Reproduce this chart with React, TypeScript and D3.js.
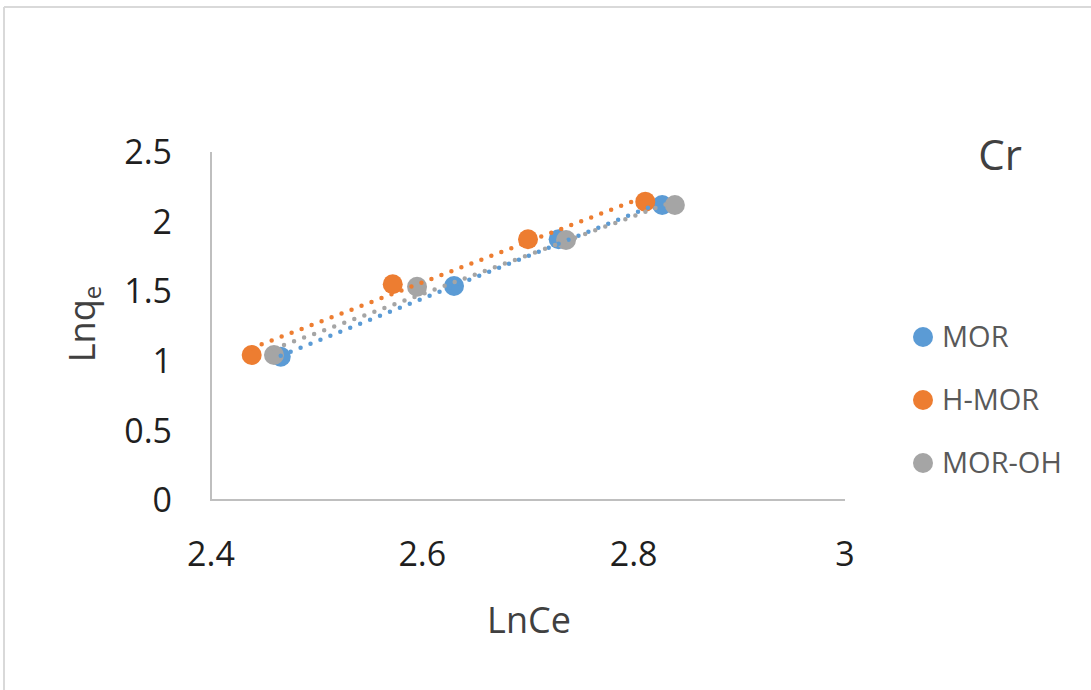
import React from "react";
import * as d3 from "d3";

const seriesNames = ["MOR", "H-MOR", "MOR-OH"];
const seriesColors = ["#5B9BD5", "#ED7D31", "#A5A5A5"];
const morX = [2.466, 2.63, 2.729, 2.827];
const morY = [1.029, 1.537, 1.873, 2.119];
const hmorX = [2.4385, 2.572, 2.7, 2.811];
const hmorY = [1.042, 1.55, 1.873, 2.143];
const morohX = [2.4596, 2.595, 2.736, 2.839];
const morohY = [1.042, 1.532, 1.868, 2.119];
const xTicks = [2.4, 2.6, 2.8, 3];
const yTicks = [0, 0.5, 1, 1.5, 2, 2.5];
const chartTitle = "Cr";

const W = 1091;
const H = 690;

function regress(xs: number[], ys: number[]) {
  const n = xs.length;
  const mx = d3.mean(xs) as number;
  const my = d3.mean(ys) as number;
  let sxy = 0, sxx = 0;
  for (let i = 0; i < n; i++) {
    sxy += (xs[i] - mx) * (ys[i] - my);
    sxx += (xs[i] - mx) * (xs[i] - mx);
  }
  const b = sxy / sxx;
  const a = my - b * mx;
  return (x: number) => a + b * x;
}

export default function App() {
  const x = d3.scaleLinear().domain([2.4, 3]).range([211, 845]);
  const y = d3.scaleLinear().domain([0, 2.5]).range([500, 152]);
  const series = [
    { xs: morX, ys: morY },
    { xs: hmorX, ys: hmorY },
    { xs: morohX, ys: morohY },
  ];
  const font = "'Open Sans', sans-serif";
  const line = d3
    .line<[number, number]>()
    .x((d) => x(d[0]))
    .y((d) => y(d[1]));

  return (
    <svg
      width={W}
      height={H}
      style={{ position: "absolute", left: 0, top: 0, background: "#fff" }}
    >
      <rect x={0} y={0} width={W} height={H} fill="#fff" />
      {/* chart frame */}
      <line x1={4} y1={7} x2={W} y2={7} stroke="#d9d9d9" strokeWidth={2} />
      <line x1={4} y1={7} x2={4} y2={H} stroke="#d9d9d9" strokeWidth={2} />

      {/* axes */}
      <line x1={x(2.4)} y1={y(2.5)} x2={x(2.4)} y2={y(0)} stroke="#bfbfbf" strokeWidth={2} />
      <line x1={x(2.4) - 1} y1={y(0)} x2={x(3)} y2={y(0)} stroke="#bfbfbf" strokeWidth={2} />

      {/* y tick labels */}
      {yTicks.map((t) => (
        <text
          key={"y" + t}
          x={172}
          y={y(t)}
          dy="0.36em"
          textAnchor="end"
          fontFamily={font}
          fontSize={34}
          fill="#1f1f1f"
        >
          {t}
        </text>
      ))}
      {/* x tick labels */}
      {xTicks.map((t) => (
        <text
          key={"x" + t}
          x={x(t)}
          y={566}
          textAnchor="middle"
          fontFamily={font}
          fontSize={34}
          fill="#1f1f1f"
        >
          {t}
        </text>
      ))}

      {/* axis titles */}
      <text x={529} y={633} textAnchor="middle" fontFamily={font} fontSize={36} fill="#404040">
        LnCe
      </text>
      <text
        transform={`translate(95,${324}) rotate(-90)`}
        textAnchor="middle"
        fontFamily={font}
        fontSize={36}
        fill="#404040"
      >
        Lnq<tspan fontSize={24} dy={6}>e</tspan>
      </text>

      {/* title */}
      <text x={1000} y={170} textAnchor="middle" fontFamily={font} fontSize={42} fill="#404040">
        {chartTitle}
      </text>

      {/* markers */}
      {series.map((s, si) =>
        s.xs.map((xv, i) => (
          <circle
            key={`m${si}-${i}`}
            cx={x(xv)}
            cy={y(s.ys[i])}
            r={10}
            fill={seriesColors[si]}
          />
        ))
      )}

      {/* trendlines */}
      {series.map((s, si) => {
        const f = regress(s.xs, s.ys);
        const x0 = d3.min(s.xs) as number;
        const x1 = d3.max(s.xs) as number;
        return (
          <path
            key={"t" + si}
            d={line([[x0, f(x0)], [x1, f(x1)]]) || ""}
            fill="none"
            stroke={seriesColors[si]}
            strokeWidth={4.5}
            strokeLinecap="round"
            strokeDasharray="0 10.7"
          />
        );
      })}

      {/* legend */}
      {seriesNames.map((n, i) => (
        <g key={"l" + n} transform={`translate(923,${337 + i * 63})`}>
          <circle cx={0} cy={0} r={10} fill={seriesColors[i]} />
          <text x={19} y={0} dy="0.36em" fontFamily={font} fontSize={29} fill="#595959">
            {n}
          </text>
        </g>
      ))}
    </svg>
  );
}
